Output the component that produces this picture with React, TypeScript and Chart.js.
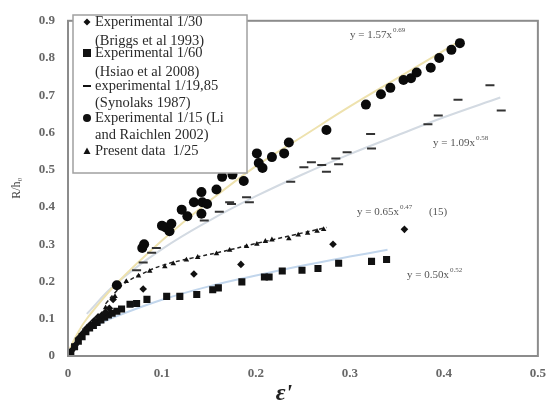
import React, { useEffect, useRef } from "react";
import { Chart, registerables } from "chart.js";

Chart.register(...registerables);

// Experimental 1/30 (Briggs et al 1993) — diamonds
const briggsX = [0.004, 0.008, 0.012, 0.016, 0.02, 0.024, 0.028, 0.032, 0.036, 0.04, 0.044, 0.048, 0.08, 0.134, 0.184, 0.282, 0.358];
const briggsY = [0.015, 0.03, 0.05, 0.062, 0.075, 0.085, 0.095, 0.105, 0.11, 0.118, 0.128, 0.152, 0.18, 0.22, 0.246, 0.3, 0.34];

// Experimental 1/60 (Hsiao et al 2008) — squares
const hsiaoX = [0.003, 0.007, 0.011, 0.015, 0.019, 0.023, 0.027, 0.031, 0.035, 0.039, 0.043, 0.047, 0.052, 0.057, 0.066, 0.073, 0.084, 0.105, 0.119, 0.137, 0.154, 0.16, 0.185, 0.209, 0.214, 0.228, 0.249, 0.266, 0.288, 0.323, 0.339];
const hsiaoY = [0.01, 0.025, 0.04, 0.052, 0.065, 0.075, 0.082, 0.09, 0.097, 0.104, 0.11, 0.115, 0.12, 0.126, 0.139, 0.141, 0.152, 0.16, 0.16, 0.165, 0.178, 0.183, 0.199, 0.212, 0.212, 0.228, 0.23, 0.235, 0.249, 0.254, 0.259];

// experimental 1/19,85 (Synolaks 1987) — dashes
const synoX = [0.073, 0.08, 0.089, 0.094, 0.145, 0.161, 0.172, 0.174, 0.19, 0.193, 0.237, 0.251, 0.259, 0.27, 0.275, 0.285, 0.288, 0.297, 0.322, 0.323, 0.383, 0.394, 0.415, 0.449, 0.461];
const synoY = [0.23, 0.251, 0.277, 0.29, 0.364, 0.387, 0.413, 0.408, 0.426, 0.413, 0.468, 0.507, 0.52, 0.513, 0.495, 0.53, 0.515, 0.547, 0.596, 0.557, 0.622, 0.646, 0.688, 0.727, 0.659];

// Experimental 1/15 (Li and Raichlen 2002) — circles
const liX = [0.052, 0.079, 0.081, 0.1, 0.104, 0.108, 0.11, 0.121, 0.127, 0.134, 0.142, 0.143, 0.142, 0.148, 0.158, 0.164, 0.175, 0.184, 0.187, 0.201, 0.203, 0.207, 0.217, 0.23, 0.235, 0.275, 0.317, 0.333, 0.343, 0.357, 0.365, 0.371, 0.386, 0.395, 0.408, 0.417];
const liY = [0.19, 0.29, 0.3, 0.35, 0.345, 0.335, 0.355, 0.393, 0.375, 0.413, 0.382, 0.413, 0.44, 0.408, 0.447, 0.481, 0.487, 0.513, 0.47, 0.544, 0.518, 0.505, 0.534, 0.544, 0.573, 0.607, 0.675, 0.703, 0.72, 0.741, 0.746, 0.761, 0.774, 0.8, 0.822, 0.84];

// Present data 1/25 — triangles
const presentX = [0.04, 0.05, 0.062, 0.075, 0.087, 0.103, 0.112, 0.126, 0.138, 0.158, 0.172, 0.19, 0.201, 0.21, 0.217, 0.235, 0.245, 0.255, 0.265, 0.272];
const presentY = [0.13, 0.16, 0.2, 0.215, 0.228, 0.24, 0.248, 0.258, 0.265, 0.275, 0.284, 0.294, 0.3, 0.308, 0.312, 0.315, 0.325, 0.33, 0.335, 0.34];

// Trend lines
const fitLiX = [0.002, 0.01, 0.02, 0.05, 0.1, 0.15, 0.2, 0.25, 0.3, 0.36, 0.42];
const fitLiY = [0.02, 0.06, 0.1, 0.19, 0.31, 0.415, 0.51, 0.59, 0.67, 0.76, 0.85];
const fitSynoX = [0.02, 0.05, 0.1, 0.15, 0.2, 0.25, 0.3, 0.35, 0.4, 0.46];
const fitSynoY = [0.113, 0.192, 0.287, 0.363, 0.429, 0.488, 0.542, 0.592, 0.641, 0.694];
const fitHsiaoX = [0.005, 0.01, 0.03, 0.05, 0.1, 0.15, 0.2, 0.25, 0.3, 0.34];
const fitHsiaoY = [0.032, 0.046, 0.081, 0.105, 0.151, 0.187, 0.216, 0.243, 0.267, 0.285];
const fitPresentX = [0.04, 0.05, 0.06, 0.08, 0.1, 0.13, 0.16, 0.2, 0.24, 0.275];
const fitPresentY = [0.14, 0.17, 0.195, 0.222, 0.243, 0.262, 0.278, 0.302, 0.325, 0.345];

const xTicks = [0, 0.1, 0.2, 0.3, 0.4, 0.5];
const yTicks = [0, 0.1, 0.2, 0.3, 0.4, 0.5, 0.6, 0.7, 0.8, 0.9];

const legendLines = [
  { marker: "diamond", text: "Experimental 1/30" },
  { marker: "", text: "(Briggs et al 1993)" },
  { marker: "square", text: "Experimental 1/60" },
  { marker: "", text: "(Hsiao et al 2008)" },
  { marker: "dash", text: "experimental 1/19,85" },
  { marker: "", text: "(Synolaks 1987)" },
  { marker: "circle", text: "Experimental 1/15 (Li" },
  { marker: "", text: "and Raichlen 2002)" },
  { marker: "triangle", text: "Present data  1/25" },
];

const equations = [
  { base: "y = 1.57x", exp: "0.69", x: 350, y: 35 },
  { base: "y = 1.09x", exp: "0.58", x: 433, y: 143 },
  { base: "y = 0.65x", exp: "0.47", x: 357, y: 212, tail: "(15)" },
  { base: "y = 0.50x", exp: "0.52", x: 407, y: 275 },
];

const zip = (xs: number[], ys: number[]) => xs.map((x, i) => ({ x, y: ys[i] }));

const SERIF = '"Liberation Serif", "Times New Roman", serif';

export default function App() {
  const ref = useRef<HTMLCanvasElement | null>(null);

  useEffect(() => {
    document.body.style.margin = "0";
    const canvas = ref.current;
    if (!canvas) return;

    const overlay = {
      id: "overlay",
      afterDatasetsDraw(chart: any) {
        const ctx = chart.ctx as CanvasRenderingContext2D;
        const a = chart.chartArea;
        ctx.save();
        // frame
        ctx.strokeStyle = "#8c8c8c";
        ctx.lineWidth = 2;
        ctx.strokeRect(a.left, a.top, a.right - a.left, a.bottom - a.top);

        // legend box
        const lx = 73, ly = 15, lw = 174, lh = 158;
        ctx.fillStyle = "#ffffff";
        ctx.fillRect(lx, ly, lw, lh);
        ctx.strokeStyle = "#a0a0a0";
        ctx.lineWidth = 1.5;
        ctx.strokeRect(lx, ly, lw, lh);

        const rows = [22, 41, 53, 72, 86, 103, 118, 135, 151];
        ctx.font = `14.5px ${SERIF}`;
        ctx.textBaseline = "middle";
        ctx.textAlign = "left";
        legendLines.forEach((l, i) => {
          const cy = rows[i];
          ctx.fillStyle = "#2a2a2a";
          ctx.fillText(l.text, 95, cy);
          const mx = 87;
          ctx.fillStyle = "#111";
          ctx.strokeStyle = "#111";
          if (l.marker === "diamond") {
            ctx.beginPath();
            ctx.moveTo(mx, cy - 3.5); ctx.lineTo(mx + 3.5, cy); ctx.lineTo(mx, cy + 3.5); ctx.lineTo(mx - 3.5, cy);
            ctx.closePath(); ctx.fill();
          } else if (l.marker === "square") {
            ctx.fillRect(mx - 4, cy - 4, 8, 8);
          } else if (l.marker === "dash") {
            ctx.lineWidth = 2;
            ctx.beginPath(); ctx.moveTo(mx - 4, cy); ctx.lineTo(mx + 4, cy); ctx.stroke();
          } else if (l.marker === "circle") {
            ctx.beginPath(); ctx.arc(mx, cy, 4, 0, Math.PI * 2); ctx.fill();
          } else if (l.marker === "triangle") {
            ctx.beginPath();
            ctx.moveTo(mx, cy - 3.5); ctx.lineTo(mx + 3.5, cy + 3); ctx.lineTo(mx - 3.5, cy + 3);
            ctx.closePath(); ctx.fill();
          }
        });

        // equations
        ctx.fillStyle = "#555";
        equations.forEach((e) => {
          ctx.font = `11px ${SERIF}`;
          ctx.fillText(e.base, e.x, e.y);
          const w = ctx.measureText(e.base).width;
          ctx.font = `7px ${SERIF}`;
          ctx.fillText(e.exp, e.x + w + 1, e.y - 5);
          if (e.tail) {
            ctx.font = `11px ${SERIF}`;
            ctx.fillText(e.tail, e.x + w + 30, e.y);
          }
        });

        // axis titles
        ctx.fillStyle = "#444";
        ctx.save();
        ctx.translate(17, 188);
        ctx.rotate(-Math.PI / 2);
        ctx.textAlign = "center";
        ctx.font = `12px ${SERIF}`;
        ctx.fillText("R/h\u2080", 0, 0);
        ctx.restore();

        ctx.fillStyle = "#222";
        ctx.textAlign = "center";
        ctx.font = `bold italic 24px ${SERIF}`;
        ctx.fillText("\u03B5'", 284, 394);
        ctx.restore();
      },
    };

    const chart = new Chart(canvas, {
      type: "scatter",
      data: {
        datasets: [
          {
            label: "Experimental 1/30 (Briggs et al 1993)",
            data: zip(briggsX, briggsY),
            pointStyle: "rectRot",
            pointRadius: 3.8,
            backgroundColor: "#111",
            borderColor: "#111",
            borderWidth: 0,
            order: 1,
          },
          {
            label: "Experimental 1/60 (Hsiao et al 2008)",
            data: zip(hsiaoX, hsiaoY),
            pointStyle: "rect",
            pointRadius: 5,
            backgroundColor: "#111",
            borderColor: "#111",
            borderWidth: 0,
            order: 1,
          },
          {
            label: "experimental 1/19,85 (Synolaks 1987)",
            data: zip(synoX, synoY),
            pointStyle: "line",
            pointRadius: 4.5,
            backgroundColor: "#333",
            borderColor: "#333",
            borderWidth: 2,
            order: 1,
          },
          {
            label: "Experimental 1/15 (Li and Raichlen 2002)",
            data: zip(liX, liY),
            pointStyle: "circle",
            pointRadius: 5,
            backgroundColor: "#0a0a0a",
            borderColor: "#0a0a0a",
            borderWidth: 0,
            order: 1,
          },
          {
            label: "Present data 1/25",
            data: zip(presentX, presentY),
            pointStyle: "triangle",
            pointRadius: 3.2,
            backgroundColor: "#111",
            borderColor: "#111",
            borderWidth: 0,
            order: 1,
          },
          {
            label: "fit Li",
            data: zip(fitLiX, fitLiY),
            showLine: true,
            pointRadius: 0,
            borderColor: "#eee2ae",
            borderWidth: 2,
            tension: 0.4,
            order: 10,
          },
          {
            label: "fit Synolakis",
            data: zip(fitSynoX, fitSynoY),
            showLine: true,
            pointRadius: 0,
            borderColor: "#d3dae2",
            borderWidth: 2,
            tension: 0.4,
            order: 10,
          },
          {
            label: "fit Hsiao",
            data: zip(fitHsiaoX, fitHsiaoY),
            showLine: true,
            pointRadius: 0,
            borderColor: "#c2d6ec",
            borderWidth: 2,
            tension: 0.4,
            order: 10,
          },
          {
            label: "fit present",
            data: zip(fitPresentX, fitPresentY),
            showLine: true,
            pointRadius: 0,
            borderColor: "#222",
            borderWidth: 1.5,
            borderDash: [4, 3],
            tension: 0.4,
            order: 5,
          },
        ],
      },
      options: {
        responsive: false,
        animation: false,
        layout: { padding: { top: 12, right: 16, left: 0, bottom: 0 } },
        plugins: { legend: { display: false }, tooltip: { enabled: false } },
        scales: {
          x: {
            type: "linear",
            min: xTicks[0],
            max: xTicks[xTicks.length - 1],
            afterBuildTicks: (s: any) => { s.ticks = xTicks.map((v) => ({ value: v })); },
            afterFit: (s: any) => { s.height = 54; },
            grid: { display: false, drawTicks: false },
            border: { display: true, color: "#8c8c8c", width: 2 },
            ticks: {
              padding: 10,
              color: "#666",
              font: { family: SERIF, size: 13, weight: "bold" },
              callback: (v: any) => String(Math.round(Number(v) * 10) / 10),
            },
          },
          y: {
            type: "linear",
            min: yTicks[0],
            max: yTicks[yTicks.length - 1],
            afterBuildTicks: (s: any) => { s.ticks = yTicks.map((v) => ({ value: v })); },
            afterFit: (s: any) => { s.width = 68; },
            grid: { display: false, drawTicks: false },
            border: { display: true, color: "#8c8c8c", width: 2 },
            ticks: {
              padding: 13,
              color: "#666",
              font: { family: SERIF, size: 13, weight: "bold" },
              callback: (v: any) => String(Math.round(Number(v) * 10) / 10),
            },
          },
        },
      } as any,
      plugins: [overlay],
    });

    return () => chart.destroy();
  }, []);

  return <canvas ref={ref} width={556} height={410} style={{ display: "block" }} />;
}
